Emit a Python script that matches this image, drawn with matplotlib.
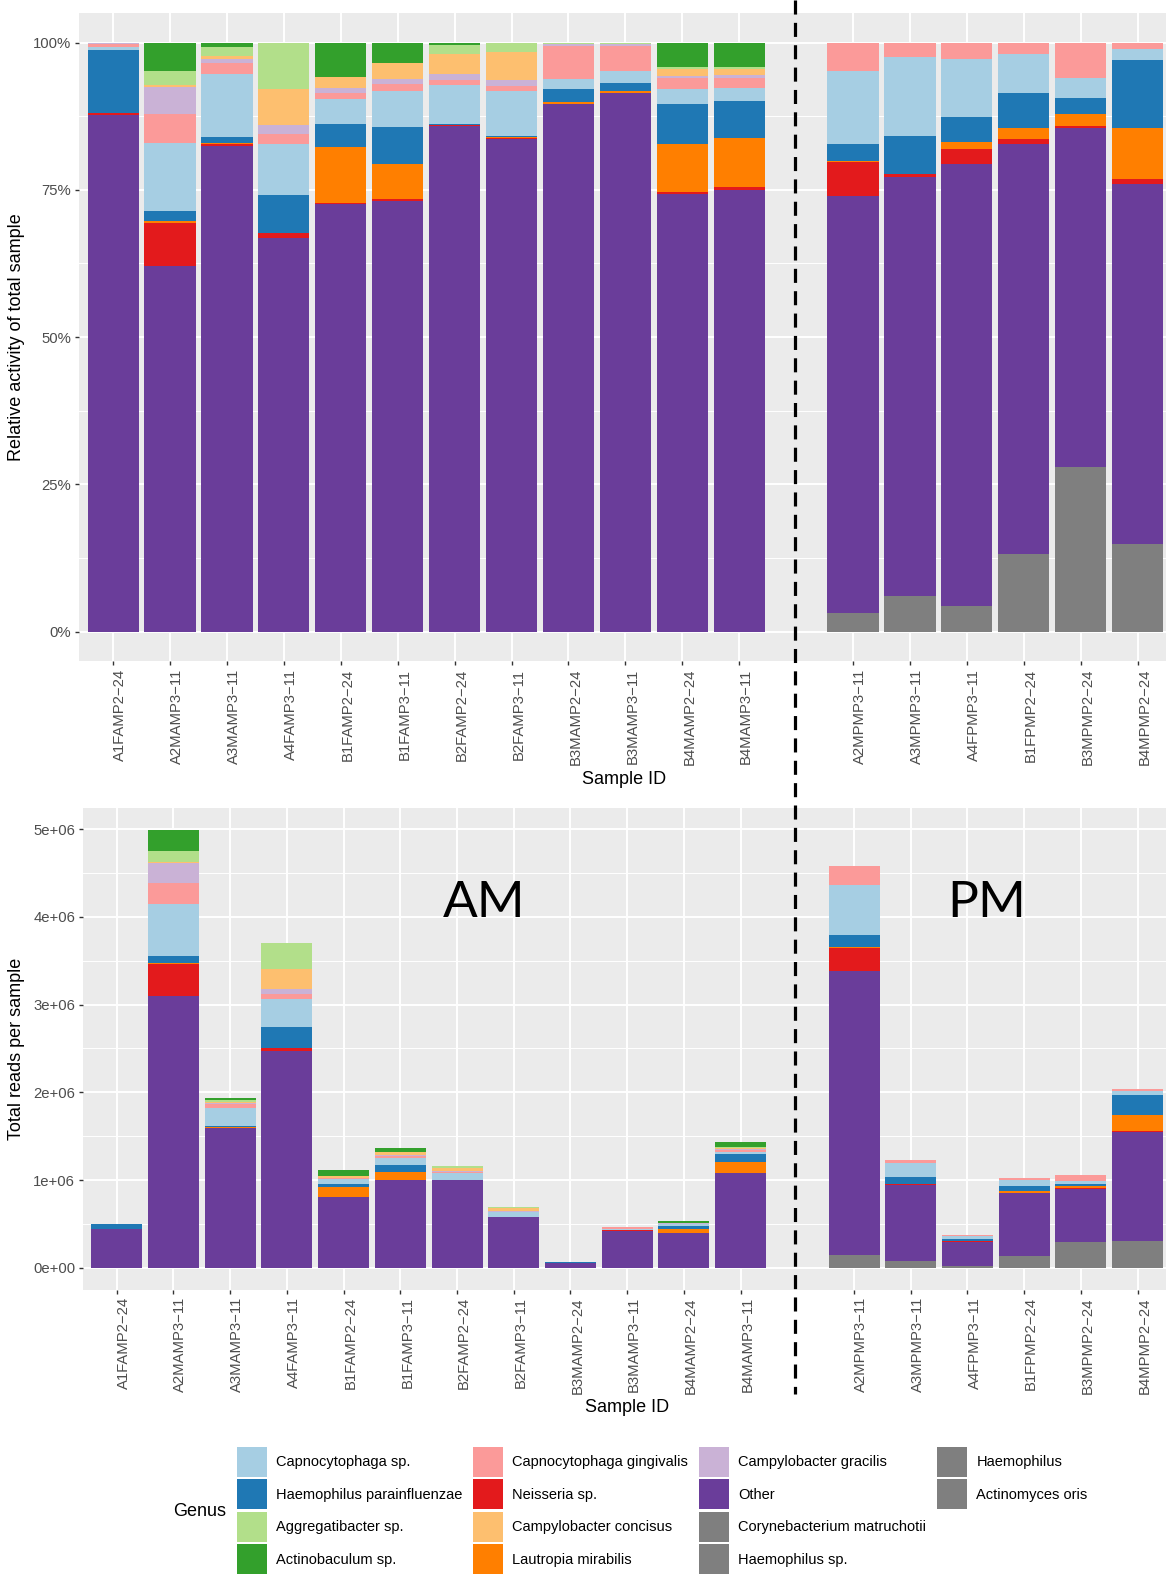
import matplotlib
matplotlib.use("Agg")
import matplotlib.pyplot as plt
import numpy as np
from matplotlib.patches import Patch
from matplotlib.lines import Line2D

plt.rcParams['font.family'] = ['Liberation Sans', 'DejaVu Sans']

# ---------------- data ----------------
am_samples = ["A1FAMP2-24", "A2MAMP3-11", "A3MAMP3-11", "A4FAMP3-11", "B1FAMP2-24", "B1FAMP3-11",
              "B2FAMP2-24", "B2FAMP3-11", "B3MAMP2-24", "B3MAMP3-11", "B4MAMP2-24", "B4MAMP3-11"]
pm_samples = ["A2MPMP3-11", "A3MPMP3-11", "A4FPMP3-11", "B1FPMP2-24", "B3MPMP2-24", "B4MPMP2-24"]

# relative activity (%) per genus, AM samples then PM samples
actinobaculum = [0, 4.8, 0.7, 0, 5.8, 3.4, 0.45, 0.1, 0, 0.05, 4.15, 4.15, 0, 0, 0, 0, 0, 0]
aggregatibacter = [0.1, 2.4, 1.6, 7.9, 0, 0, 1.4, 1.5, 0.15, 0.2, 0.3, 0.3, 0, 0, 0, 0, 0, 0]
campylobacter_concisus = [0, 0.4, 0.5, 6.1, 1.9, 2.7, 3.4, 4.7, 0, 0, 1.3, 1.1, 0, 0, 0, 0, 0, 0]
campylobacter_gracilis = [0.1, 4.6, 0.6, 1.6, 0.8, 0.9, 1.1, 1.1, 0.35, 0.4, 0.35, 0.45, 0, 0, 0, 0, 0, 0]
capnocytophaga_gingivalis = [0.5, 4.8, 2.0, 1.7, 1.1, 1.3, 0.9, 0.9, 5.7, 4.1, 1.8, 1.8, 4.8, 2.5, 2.8, 1.9, 6.0, 1.1]
capnocytophaga_sp = [0.6, 11.7, 10.7, 8.6, 4.3, 6.1, 6.6, 7.6, 1.7, 2.2, 2.5, 2.1, 12.4, 13.4, 9.9, 6.7, 3.4, 1.8]
haemophilus_parainfluenzae = [10.7, 1.6, 1.0, 6.4, 3.9, 6.25, 0.1, 0.25, 2.1, 1.3, 6.8, 6.3, 2.95, 6.5, 4.2, 5.9, 2.65, 11.6]
lautropia_mirabilis = [0, 0.3, 0.2, 0, 9.4, 6.0, 0, 0.15, 0.35, 0.25, 8.3, 8.4, 0.2, 0, 1.25, 1.9, 2.05, 8.75]
neisseria_sp = [0.3, 7.4, 0.3, 0.85, 0.3, 0.3, 0.2, 0.1, 0, 0.1, 0.35, 0.45, 5.7, 0.45, 2.4, 0.85, 0.4, 0.7]
other = [87.9, 62.1, 82.5, 66.9, 72.6, 73.2, 85.9, 83.9, 89.7, 91.6, 74.4, 75.3, 70.9, 71.1, 75.1, 69.7, 57.6, 61.3]
grey_genera = [0, 0, 0, 0, 0, 0, 0, 0, 0, 0, 0, 0, 3.1, 6.1, 4.4, 13.1, 27.9, 14.8]

# total reads per sample
total_reads = [0.50e6, 4.99e6, 1.93e6, 3.70e6, 1.114e6, 1.368e6, 1.16e6, 0.689e6, 0.065e6, 0.464e6,
               0.536e6, 1.433e6, 4.58e6, 1.225e6, 0.369e6, 1.023e6, 1.053e6, 2.034e6]

# stacking order bottom -> top
stack_series = [grey_genera, other, neisseria_sp, lautropia_mirabilis, haemophilus_parainfluenzae,
                capnocytophaga_sp, capnocytophaga_gingivalis, campylobacter_gracilis,
                campylobacter_concisus, aggregatibacter, actinobaculum]
GREY = "#7F7F7F"
stack_colors = [GREY, "#6A3D9A", "#E31A1C", "#FF7F00", "#1F78B4", "#A6CEE3", "#FB9A99",
                "#CAB2D6", "#FDBF6F", "#B2DF8A", "#33A02C"]

legend_labels = ["Capnocytophaga sp.", "Haemophilus parainfluenzae", "Aggregatibacter sp.", "Actinobaculum sp.",
                 "Capnocytophaga gingivalis", "Neisseria sp.", "Campylobacter concisus", "Lautropia mirabilis",
                 "Campylobacter gracilis", "Other", "Corynebacterium matruchotii", "Haemophilus sp.",
                 "Haemophilus", "Actinomyces oris"]
legend_colors = ["#A6CEE3", "#1F78B4", "#B2DF8A", "#33A02C",
                 "#FB9A99", "#E31A1C", "#FDBF6F", "#FF7F00",
                 "#CAB2D6", "#6A3D9A", GREY, GREY,
                 GREY, GREY]

# ---------------- figure ----------------
W, H = 1166, 1575
fig = plt.figure(figsize=(W / 100, H / 100), dpi=100)


def px_axes(left, top, right, bottom):
    return fig.add_axes([left / W, 1 - bottom / H, (right - left) / W, (bottom - top) / H])


ax_top = px_axes(79, 13.2, 1166, 661)
ax_bot = px_axes(82.7, 808.2, 1166, 1289.6)

n_am, n_pm = len(am_samples), len(pm_samples)
xpos = np.concatenate([np.arange(1, n_am + 1), np.arange(n_am + 2, n_am + 2 + n_pm)])
labels = [s.replace("-", "\u2212") for s in am_samples + pm_samples]

vals = np.array(stack_series, dtype=float)
frac = vals / vals.sum(axis=0)
tot = np.array(total_reads)

TICK_FS = 10.7
for ax, scale in ((ax_top, np.ones_like(tot)), (ax_bot, tot)):
    bottom = np.zeros(len(xpos))
    for row, col in zip(frac, stack_colors):
        h = row * scale
        ax.bar(xpos, h, bottom=bottom, width=0.9, color=col, linewidth=0, zorder=3)
        bottom += h

    ax.set_facecolor("#EBEBEB")
    for s in ax.spines.values():
        s.set_visible(False)
    ax.set_xlim(0.4, 19.5)
    ax.set_xticks(xpos)
    ax.set_xticklabels(labels, rotation=90, ha="left", va="top")
    ax.grid(which="major", color="white", linewidth=1.4, zorder=0)
    ax.grid(which="minor", axis="y", color="white", linewidth=0.7, zorder=0)
    ax.set_axisbelow(True)
    ax.tick_params(axis="both", which="major", length=2.9, width=1.0, color="#333333",
                   pad=2.6, labelsize=TICK_FS, labelcolor="#4D4D4D")
    ax.tick_params(which="minor", length=0)

# top axis: relative
ax_top.set_ylim(-0.05, 1.05)
ax_top.set_yticks([0, 0.25, 0.5, 0.75, 1.0])
ax_top.set_yticklabels(["0%", "25%", "50%", "75%", "100%"])
ax_top.set_yticks([0.125, 0.375, 0.625, 0.875], minor=True)

# bottom axis: totals
ymax = tot.max()
ax_bot.set_ylim(-0.05 * ymax, 1.05 * ymax)
ax_bot.set_yticks([0, 1e6, 2e6, 3e6, 4e6, 5e6])
ax_bot.set_yticklabels(["0e+00", "1e+06", "2e+06", "3e+06", "4e+06", "5e+06"])
ax_bot.set_yticks([0.5e6, 1.5e6, 2.5e6, 3.5e6, 4.5e6], minor=True)

# axis titles
TITLE_FS = 13
fig.text(624 / W, 1 - 780 / H, "Sample ID", ha="center", va="center", fontsize=TITLE_FS)
fig.text(627 / W, 1 - 1407 / H, "Sample ID", ha="center", va="center", fontsize=TITLE_FS)
fig.text(17 / W, 1 - 337 / H, "Relative activity of total sample", rotation=90,
         ha="center", va="center", fontsize=TITLE_FS)
fig.text(17 / W, 1 - 1049 / H, "Total reads per sample", rotation=90,
         ha="center", va="center", fontsize=TITLE_FS)

# AM / PM annotations
fig.text(484 / W, 1 - 917 / H, "AM", ha="center", va="baseline", fontsize=37, family="Lato")
fig.text(987 / W, 1 - 917 / H, "PM", ha="center", va="baseline", fontsize=37, family="Lato")

# dashed separator
fig.add_artist(Line2D([795 / W, 795 / W], [1.0, 1 - 1394 / H], transform=fig.transFigure,
                      color="black", linewidth=2.3, linestyle=(0, (4.4, 2.6))))

# legend (two invisible slots so columns fill 4, 4, 4, 2 like the original)
handles = [Patch(facecolor=c, edgecolor="none") for c in legend_colors]
handles += [Patch(facecolor="none", edgecolor="none")] * 2
leg_labels = legend_labels + ["", ""]
LEG_FS = 10.5
fsp = LEG_FS * 100 / 72
key_h = 30.0
hh = (key_h - 0.245 * fsp) / (0.65 * fsp)
fig.legend(handles, leg_labels, ncol=4, loc="upper left",
           bbox_to_anchor=(237 / W, 1 - 1447 / H), bbox_transform=fig.transFigure,
           frameon=False, fontsize=LEG_FS, borderpad=0, borderaxespad=0,
           handlelength=30 / fsp, handleheight=hh, labelspacing=2.4 / fsp,
           handletextpad=9 / fsp, columnspacing=11 / fsp)
fig.text(200 / W, 1 - 1511 / H, "Genus", ha="center", va="center", fontsize=TITLE_FS)

fig.savefig("out.png", dpi=100)
